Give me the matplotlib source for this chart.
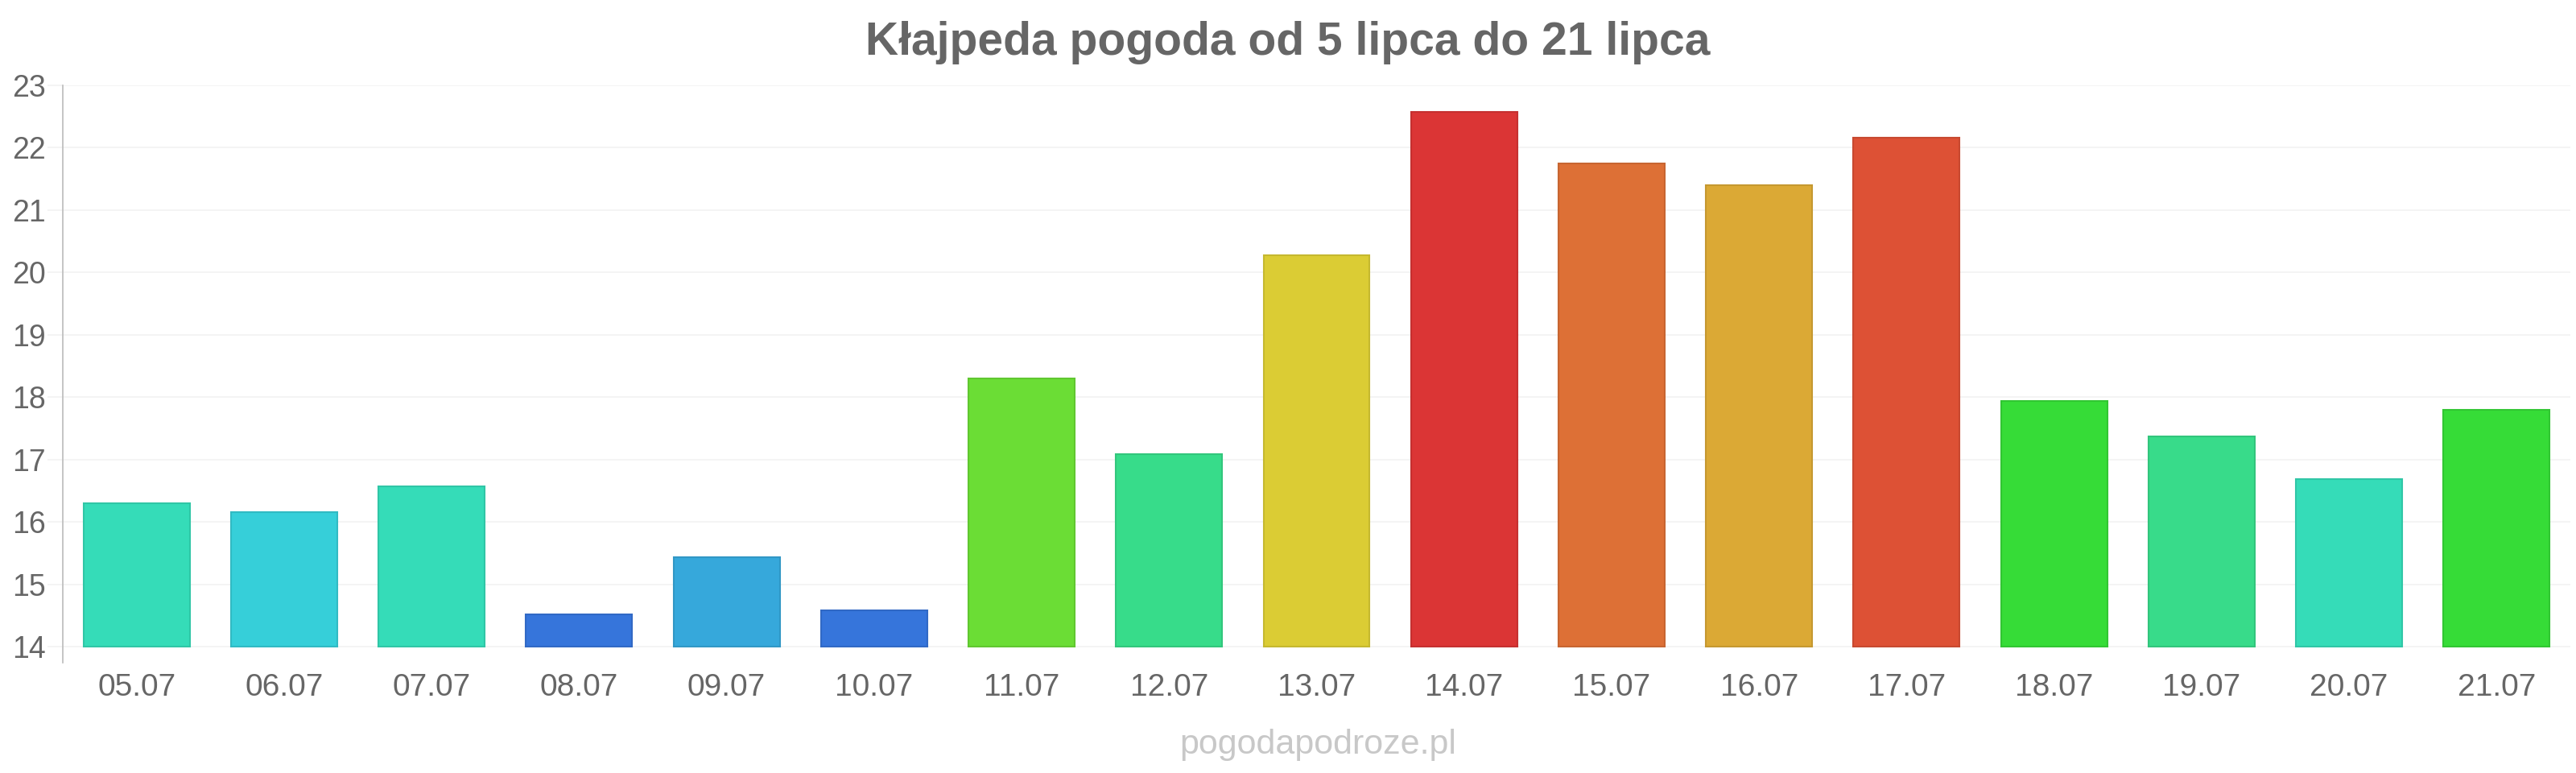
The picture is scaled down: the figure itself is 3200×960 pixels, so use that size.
import numpy as np
import matplotlib
matplotlib.use('Agg')
import matplotlib.pyplot as plt
import matplotlib.colors as mcolors

# daily temperatures, Klaipeda 5-21 July
days = ['05.07', '06.07', '07.07', '08.07', '09.07', '10.07', '11.07', '12.07', '13.07',
        '14.07', '15.07', '16.07', '17.07', '18.07', '19.07', '20.07', '21.07']
temps = [16.3, 16.15, 16.57, 14.52, 15.43, 14.58, 18.3, 17.09, 20.27,
         22.57, 21.75, 21.4, 22.16, 17.94, 17.37, 16.69, 17.79]
bar_colors = ['#35dcb8', '#36cfd9', '#35dcb8', '#3675db', '#36a8db', '#3675db', '#6bdd35',
              '#37dc8a', '#dbcc34', '#db3535', '#dd7036', '#dba935', '#dd5135', '#36dc37',
              '#38db8a', '#35dcb8', '#36dc37']
y_ticks = [14, 15, 16, 17, 18, 19, 20, 21, 22, 23]

title = 'Kłajpeda pogoda od 5 lipca do 21 lipca'
watermark = 'pogodapodroze.pl'

plt.rcParams['font.family'] = ['Liberation Sans', 'DejaVu Sans']
txt_color = '#666666'

fig = plt.figure(figsize=(32, 9.6), dpi=100)
ax = fig.add_axes([0.0244, 0.1427, 0.9734, 0.7469])

x = np.arange(len(days))
base = y_ticks[0]
edges = [tuple(c * 0.9 for c in mcolors.to_rgb(col)) for col in bar_colors]
ax.bar(x, np.array(temps) - base, bottom=base, width=0.72,
       color=bar_colors, edgecolor=edges, linewidth=1.5, zorder=3)

ax.set_xlim(-0.5, len(days) - 0.5)
ax.set_ylim(base - 20 / 77.45, y_ticks[-1])
ax.set_yticks(y_ticks)
ax.set_xticks(x)
ax.set_xticklabels(days)

ax.grid(axis='y', color='#f2f2f2', linewidth=1.2, zorder=0)
ax.tick_params(axis='x', length=0, pad=9, labelsize=28, labelcolor=txt_color)
ax.tick_params(axis='y', length=14, width=1.2, color='#f2f2f2', pad=1.5,
               labelsize=27, labelcolor=txt_color)

for side in ['top', 'right', 'bottom']:
    ax.spines[side].set_visible(False)
ax.spines['left'].set_color('#bbbbbb')
ax.spines['left'].set_linewidth(1.2)

fig.text(0.5, 0.945, title, ha='center', va='center', fontsize=41,
         fontweight='bold', color=txt_color)
fig.text(0.5116, 0.036, watermark, ha='center', va='center', fontsize=31,
         color='#c8c8c8')

fig.savefig('out.png', dpi=100, facecolor='white')
